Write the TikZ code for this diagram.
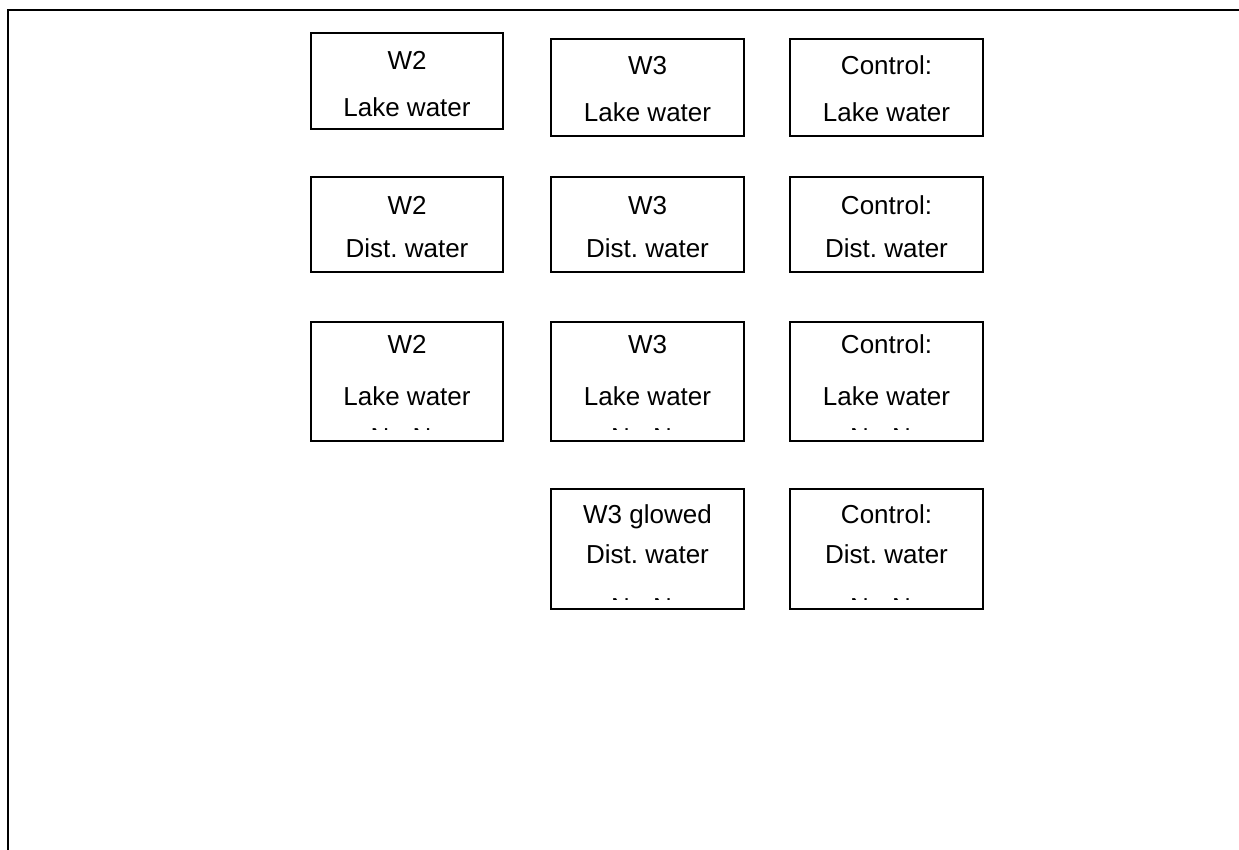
\documentclass[tikz,border=0pt]{standalone}
\usepackage{fontspec}
\setmainfont{Liberation Sans}
\frenchspacing
\begin{document}
\begin{tikzpicture}[x=1pt,y=-1pt,
  box/.style={draw=black,line width=1.9pt,rectangle,inner sep=0pt},
  lbl/.style={anchor=base,inner sep=0pt,font=\fontsize{26}{30}\selectfont},
  frame/.style={line width=2.8pt,line cap=rect}]
\useasboundingbox (0,0) rectangle (1239,850);
% frame
\coordinate (fl) at (8,850);
\coordinate (fc) at (8,10);
\coordinate (fr) at (1239,10);
\draw[frame] (fl) -- (fc) -- (fr);
% row 1
\node[box,minimum width=192pt,minimum height=96pt] (a1) at (407,81) {};
\node[box,minimum width=193pt,minimum height=97pt] (b1) at (647.5,87.5) {};
\node[box,minimum width=193pt,minimum height=97pt] (c1) at (886.5,87.5) {};
\node[lbl] (a1t) at (407,70) {W2};
\node[lbl] (a1s) at (407,117) {Lake water};
\node[lbl] (b1t) at (647.5,75) {W3};
\node[lbl] (b1s) at (647.5,122) {Lake water};
\node[lbl] (c1t) at (886.5,75) {Control:};
\node[lbl] (c1s) at (886.5,122) {Lake water};
% row 2
\node[box,minimum width=192pt,minimum height=95pt] (a2) at (407,224.5) {};
\node[box,minimum width=193pt,minimum height=95pt] (b2) at (647.5,224.5) {};
\node[box,minimum width=193pt,minimum height=95pt] (c2) at (886.5,224.5) {};
\node[lbl] (a2t) at (407,215) {W2};
\node[lbl] (a2s) at (407,258) {Dist. water};
\node[lbl] (b2t) at (647.5,215) {W3};
\node[lbl] (b2s) at (647.5,258) {Dist. water};
\node[lbl] (c2t) at (886.5,215) {Control:};
\node[lbl] (c2s) at (886.5,258) {Dist. water};
% row 3
\node[box,minimum width=192pt,minimum height=119pt] (a3) at (407,381.5) {};
\node[box,minimum width=193pt,minimum height=119pt] (b3) at (647.5,381.5) {};
\node[box,minimum width=193pt,minimum height=119pt] (c3) at (886.5,381.5) {};
\node[lbl] (a3t) at (407,353) {W2};
\node[lbl] (a3s) at (407,405) {Lake water};
\node[lbl] (b3t) at (647.5,353) {W3};
\node[lbl] (b3s) at (647.5,405) {Lake water};
\node[lbl] (c3t) at (886.5,353) {Control:};
\node[lbl] (c3s) at (886.5,405) {Lake water};
\begin{scope}
\clip (300,420) rectangle (1000,429.5);
\node[lbl] (a3u) at (401,446) {N - N};
\node[lbl] (b3u) at (641.5,446) {N - N};
\node[lbl] (c3u) at (880.5,446) {N - N};
\end{scope}
% row 4
\node[box,minimum width=193pt,minimum height=120pt] (b4) at (647.5,549) {};
\node[box,minimum width=193pt,minimum height=120pt] (c4) at (886.5,549) {};
\node[lbl] (b4t) at (647.5,523) {W3 glowed};
\node[lbl] (b4s) at (647.5,563) {Dist. water};
\node[lbl] (c4t) at (886.5,523) {Control:};
\node[lbl] (c4s) at (886.5,563) {Dist. water};
\begin{scope}
\clip (540,590) rectangle (1000,599.5);
\node[lbl] (b4u) at (641.5,616) {N - N};
\node[lbl] (c4u) at (880.5,616) {N - N};
\end{scope}
\end{tikzpicture}
\end{document}
